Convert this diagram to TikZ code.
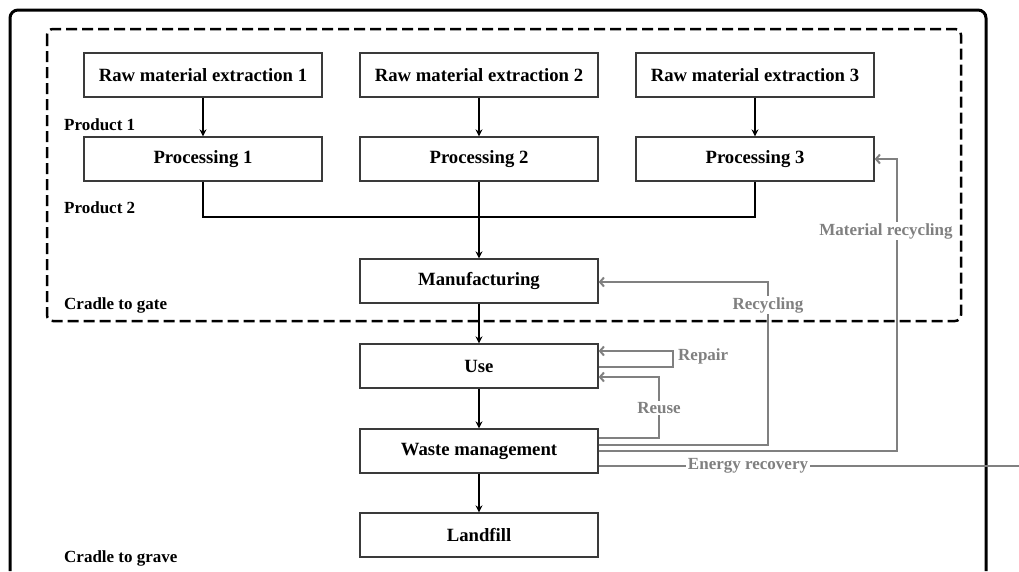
\documentclass[tikz,border=0pt]{standalone}
\usepackage{fontspec}
\setmainfont{Liberation Serif}
\usetikzlibrary{arrows.meta}
\definecolor{flowgrey}{HTML}{808080}
\definecolor{boxline}{HTML}{3A3A3A}
\begin{document}
\begin{tikzpicture}[x=1pt,y=-1pt,
  stage/.style={draw=boxline, line width=1.3pt, minimum width=238pt,
    minimum height=44pt, inner sep=0pt,
    font=\fontsize{18.7}{22}\selectfont\bfseries},
  flow/.style={line width=2pt, -{Stealth[length=7pt,width=7pt]}},
  joinline/.style={line width=2pt},
  loopline/.style={draw=flowgrey, line width=2pt},
  looparrow/.style={loopline, -{Straight Barb[length=4pt,width=9pt]}},
  tag/.style={font=\fontsize{17}{20}\selectfont\bfseries, anchor=west, inner sep=0pt},
  looptag/.style={font=\fontsize{17}{20}\selectfont\bfseries, text=flowgrey,
    fill=white, inner sep=1.5pt}]

\useasboundingbox (0,0) rectangle (1019,571);

% cradle-to-grave frame (open at the bottom)
\draw[line width=3pt, rounded corners=8pt] (10,571) -- (10,10) -- (986,10) -- (986,571);

% cradle-to-gate boundary
\draw[line width=2.5pt, dash pattern=on 11pt off 5pt, rounded corners=6pt]
  (47,29) rectangle (961,321);

% process stages
\node[stage] (r1) at (203,75) {Raw material extraction 1};
\node[stage] (r2) at (479,75) {Raw material extraction 2};
\node[stage] (r3) at (755,75) {Raw material extraction 3};
\node[stage] (p1) at (203,159) {Processing 1};
\node[stage] (p2) at (479,159) {Processing 2};
\node[stage] (p3) at (755,159) {Processing 3};
\node[stage] (man) at (479,281) {Manufacturing};
\node[stage] (use) at (479,366) {Use};
\node[stage] (waste) at (479,451) {Waste management};
\node[stage] (land) at (479,535) {Landfill};

% side labels
\node[tag] (prod1) at (64,125) {Product 1};
\node[tag] (prod2) at (64,208) {Product 2};
\node[tag] (gate) at (64,305) {Cradle to gate};
\node[tag] (grave) at (64,558) {Cradle to grave};

% main flow
\coordinate (join) at (479,217);
\draw[flow] (r1) -- (p1);
\draw[flow] (r2) -- (p2);
\draw[flow] (r3) -- (p3);
\draw[joinline] (p1.south) |- (join);
\draw[joinline] (p3.south) |- (join);
\draw[flow] (p2) -- (man);
\draw[flow] (man) -- (use);
\draw[flow] (use) -- (waste);
\draw[flow] (waste) -- (land);

% loops back from waste management and use
\coordinate (repairturn) at (673,351);
\coordinate (reuseturn) at (659,377);
\coordinate (recycleturn) at (768,282);
\coordinate (matturn) at (897,159);
\coordinate (energyend) at (1019,466);

\draw[looparrow] ([yshift=-1pt]use.east) -| (repairturn) -- (repairturn -| use.east);
\draw[looparrow] ([yshift=13pt]waste.east) -| (reuseturn) -- (reuseturn -| use.east);
\draw[looparrow] ([yshift=6pt]waste.east) -| (recycleturn) -- (recycleturn -| man.east);
\draw[looparrow] (waste.east) -| (matturn) -- (matturn -| p3.east);
\draw[loopline] ([yshift=-15pt]waste.east) -- (energyend);

\node[looptag, fill=none, anchor=west, inner sep=0pt] (repair) at (678,356) {Repair};
\node[looptag] (reuse) at (659,408) {Reuse};
\node[looptag] (recycling) at (768,305) {Recycling};
\node[looptag] (matrec) at (886,231) {Material recycling};
\node[looptag] (energy) at (748,466) {Energy recovery};
\end{tikzpicture}
\end{document}
